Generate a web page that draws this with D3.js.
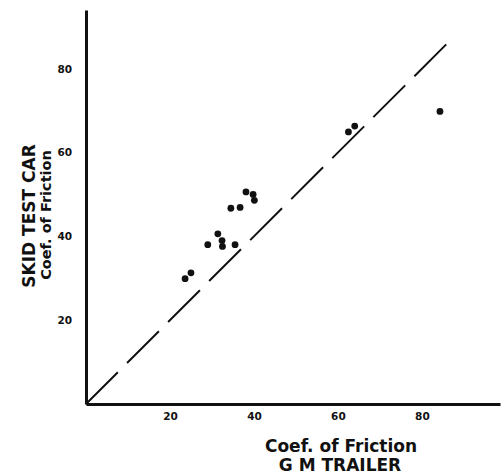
<!DOCTYPE html>
<html>
<head>
<meta charset="utf-8">
<script src="https://cdn.jsdelivr.net/npm/d3@7"></script>
<style>
	body { margin: 0; background: #fff; }
	svg { display: block; font-family: "DejaVu Sans", sans-serif; font-weight: bold; }
</style>
</head>
<body>
<svg></svg>
<script>
// GM trailer (x) vs skid test car (y), coef. of friction
const trailer = [38.1, 39.8, 40.1, 34.5, 36.7, 31.4, 32.4, 32.5, 29.0, 35.5, 25.0, 23.6, 62.5, 64.0, 84.3]
const skidCar = [50.6, 50.0, 48.6, 46.7, 46.9, 40.6, 39.0, 37.6, 38.0, 38.0, 31.3, 29.9, 64.9, 66.3, 69.8]
const equality = [0, 87]
const xTicks = [20, 40, 60, 80]
const yTicks = [20, 40, 60, 80]

const width = 501;
const height = 475;
const ink = '#111';

const svg = d3.select('svg')
	.attr('width', width)
	.attr('height', height);

const x = d3.scaleLinear().domain([0, 98.6]).range([86, 500]);
const y = d3.scaleLinear().domain([0, 94]).range([404, 10]);

// axes, no tick marks, just the numbers
const xAxis = svg.append('g')
	.attr('transform', `translate(0,${y(0)})`)
	.call(d3.axisBottom(x).tickValues(xTicks).tickSize(0).tickPadding(9));
const yAxis = svg.append('g')
	.attr('transform', `translate(${x(0)},0)`)
	.call(d3.axisLeft(y).tickValues(yTicks).tickSize(0).tickPadding(14));

[xAxis, yAxis].forEach(a => {
	a.select('.domain').attr('stroke', ink).attr('stroke-width', 3);
	a.selectAll('text')
		.attr('fill', ink)
		.style('font-size', '10.5px')
		.style('font-weight', 'bold')
		.style('font-family', '"DejaVu Sans", sans-serif');
});

// 1:1 line
svg.append('line')
	.attr('x1', x(equality[0]))
	.attr('y1', y(equality[0]))
	.attr('x2', x(equality[1]))
	.attr('y2', y(equality[1]))
	.attr('stroke', ink)
	.attr('stroke-width', 2)
	.attr('stroke-dasharray', '45,13');

svg.selectAll('circle')
	.data(trailer.map((t, i) => ({t, s: skidCar[i]})))
	.join('circle')
		.attr('cx', d => x(d.t))
		.attr('cy', d => y(d.s))
		.attr('r', 3.4)
		.attr('fill', ink);

// axis titles
svg.append('text')
	.attr('x', 341)
	.attr('y', 452)
	.attr('text-anchor', 'middle')
	.style('font-size', '17px')
	.attr('fill', ink)
	.text('Coef. of Friction');
svg.append('text')
	.attr('x', 340)
	.attr('y', 471)
	.attr('text-anchor', 'middle')
	.style('font-size', '17px')
	.attr('fill', ink)
	.text('G M TRAILER');

svg.append('text')
	.attr('transform', 'translate(35,216) rotate(-90)')
	.attr('text-anchor', 'middle')
	.style('font-size', '17px')
	.attr('fill', ink)
	.text('SKID TEST CAR');
svg.append('text')
	.attr('transform', 'translate(51,215) rotate(-90)')
	.attr('text-anchor', 'middle')
	.style('font-size', '14.5px')
	.attr('fill', ink)
	.text('Coef. of Friction');
</script>
</body>
</html>
